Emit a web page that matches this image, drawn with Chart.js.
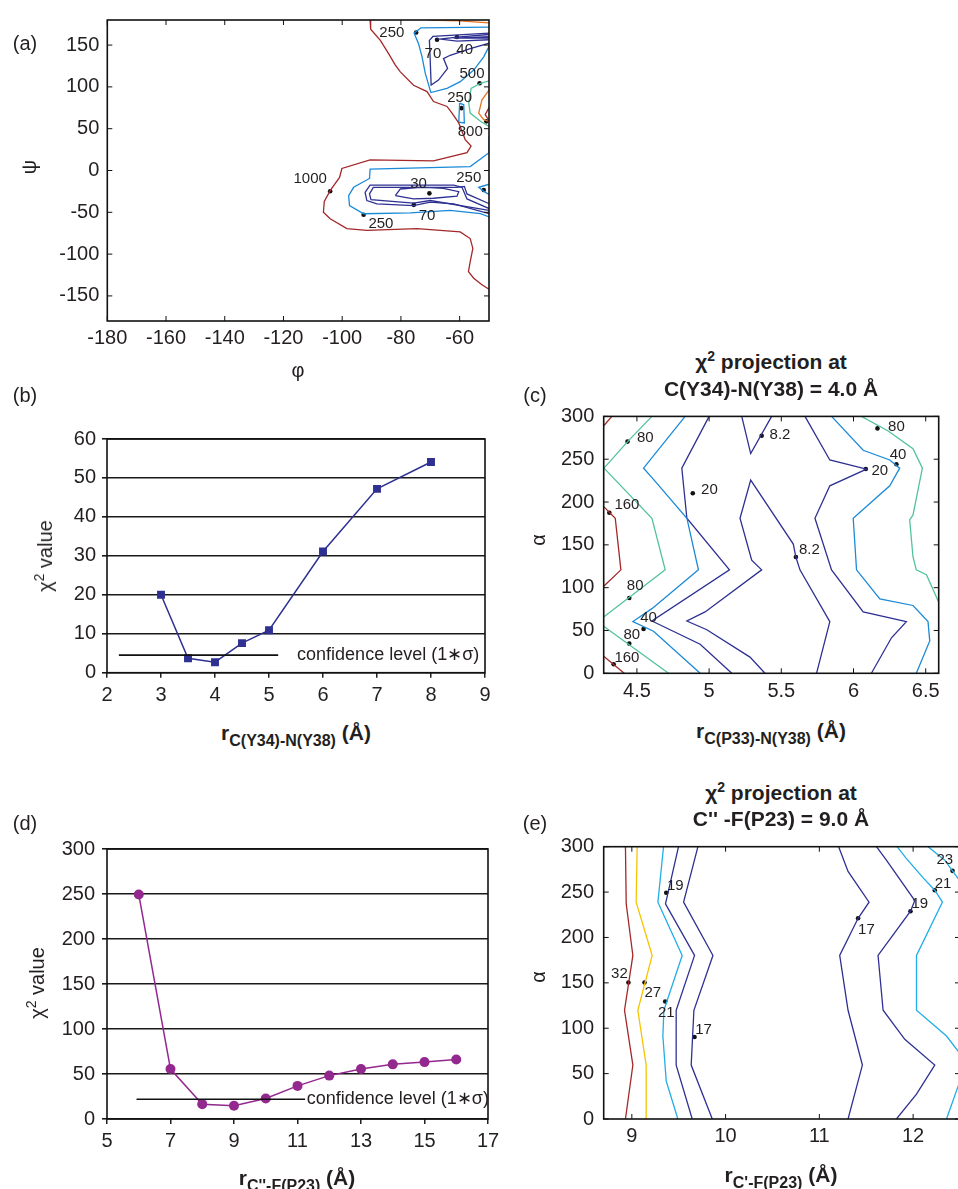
<!DOCTYPE html>
<html>
<head>
<meta charset="utf-8">
<script src="https://cdn.jsdelivr.net/npm/chart.js@4.4.1/dist/chart.umd.min.js"></script>
<style>
  html, body { margin: 0; padding: 0; background: #fff; overflow: hidden; }
  #page { position: relative; width: 958px; height: 1189px; overflow: hidden; font-family: 'Liberation Sans', Arial, sans-serif; color: #231f20; }
  canvas { position: absolute; }
  .t { position: absolute; white-space: nowrap; font-size: 20px; line-height: 1; transform: translate(-50%, -50%); z-index: 2; }
  .rot { transform: translate(-50%, -50%) rotate(-90deg); }
  .b { font-weight: bold; font-size: 21px; }
  .t sub { font-size: 16px; vertical-align: -6px; line-height: 0; }
  .t sup { font-size: 14px; vertical-align: 8px; line-height: 0; }
</style>
</head>
<body>
<div id="page">
  <div class="t" style="left:25px;top:43px">(a)</div>
  <div class="t rot" style="left:29px;top:167px">ψ</div>
  <div class="t" style="left:298px;top:370px">φ</div>

  <div class="t" style="left:25px;top:395px">(b)</div>
  <div class="t rot" style="left:45px;top:556px">χ<sup>2</sup> value</div>
  <div class="t b" style="left:296px;top:732px">r<sub>C(Y34)-N(Y38)</sub> (Å)</div>

  <div class="t" style="left:535px;top:395px">(c)</div>
  <div class="t b" style="left:771px;top:361px">χ<sup>2</sup> projection at</div>
  <div class="t b" style="left:771px;top:388px">C(Y34)-N(Y38) = 4.0 Å</div>
  <div class="t rot" style="left:538px;top:540px">α</div>
  <div class="t b" style="left:771px;top:730px">r<sub>C(P33)-N(Y38)</sub> (Å)</div>

  <div class="t" style="left:25px;top:823px">(d)</div>
  <div class="t rot" style="left:37px;top:983px">χ<sup>2</sup> value</div>
  <div class="t b" style="left:297px;top:1177px">r<sub>C''-F(P23)</sub> (Å)</div>

  <div class="t" style="left:535px;top:823px">(e)</div>
  <div class="t b" style="left:781px;top:792px">χ<sup>2</sup> projection at</div>
  <div class="t b" style="left:781px;top:818px">C'' -F(P23) = 9.0 Å</div>
  <div class="t rot" style="left:538px;top:977px">α</div>
  <div class="t b" style="left:781px;top:1174px">r<sub>C'-F(P23)</sub> (Å)</div>
</div>
<script>
// ---- panel (a): phi/psi contours, [phi, psi] pairs ----
const aC1000 = [[-90.5,180],[-90.3,169],[-87,155.6],[-84.2,139.8],[-81.9,126],[-80.2,118],[-75.7,102],[-71.1,94.4],[-68.9,82.5],[-64.3,76.6],[-62.6,68.7],[-60.3,56.9],[-59.2,47],[-58.1,37],[-56.1,29.2],[-57.5,21.3],[-68.9,11.5],[-90.5,12.6],[-100.1,2.4],[-100.9,-8.3],[-104.1,-24],[-106.1,-37],[-106.4,-49.8],[-104.1,-57.7],[-98.4,-69.5],[-91.6,-71.5],[-74.5,-69.5],[-59.8,-73.5],[-56.4,-81.4],[-55.5,-93.2],[-56.4,-109],[-57,-120.9],[-55.2,-128.8],[-52.4,-136.7],[-49.8,-142.6]]
const aC1000b = [[-49.8,76.6],[-51.3,66.7],[-49.8,58.9]]
const aC800 = [[-49.8,97.2],[-52.4,84.5],[-53.5,68.7],[-51.8,60.8],[-49.8,58.5]]
const aCtop = [[-70.6,180],[-60,179],[-49.8,176.5]]
const aC500 = [[-49.8,107.4],[-52.9,104.3],[-56.1,98.3],[-56.9,80.6],[-56.4,68.7],[-52.9,58.8],[-49.8,52.1]]
const aC250top = [[-49.8,171.4],[-73.2,170.6],[-75.5,164.3],[-74,151.7],[-72.8,135.9],[-71.7,116.1],[-69.8,93.2],[-64.3,98.3],[-59.8,106.2],[-55.2,120.1],[-51.8,135.9],[-49.8,149.7]]
const aC250loop = [[-60,80.6],[-60.3,57.7],[-58.4,56.9],[-58.6,78.6],[-60,80.6]]
const aC250low = [[-49.8,41],[-50,21.3],[-56.4,4.7],[-90.5,1.6],[-90.7,-9.5],[-96.1,-20.1],[-97.8,-30],[-97.5,-41.9],[-92.7,-51.7],[-76.8,-50.6],[-63.2,-47.8],[-52.9,-51.7],[-49.8,-55.7]]
const aC250notch = [[-49.8,-16.2],[-53.5,-20.1],[-51.6,-25.3],[-49.8,-29.2]]
const aC250edge = [[-49.9,-118],[-49.9,-131]]
const aC70top = [[-49.8,164.3],[-69.1,160.3],[-70.3,155.6],[-70,129.9],[-69.7,102.3],[-67.2,108.2],[-64.1,122],[-65.5,133.9],[-63.2,137.8],[-56.4,145.7],[-49.8,152.4]]
const aC40top = [[-49.8,162.7],[-60.9,159.6],[-66.6,157.2],[-60.9,154.8],[-49.8,156.4]]
const aC30top = [[-49.8,160],[-62,158.4],[-49.8,158.2]]
const aC70low = [[-49.8,-45.8],[-57.5,-34],[-59.2,-20.1],[-62,-17.4],[-90.5,-17.4],[-92.2,-26.1],[-91.6,-35.9],[-88.2,-39.9],[-75.7,-41.9],[-70,-37.9],[-62,-39.9],[-49.8,-51.7]]
const aC40low = [[-49.8,-39.9],[-57.5,-28],[-58.4,-19],[-60.9,-20.1],[-89.4,-20.1],[-90.7,-28],[-90.2,-34.8],[-75.7,-39.1],[-70,-35.9],[-49.8,-47.8]]
const aC30low = [[-81.9,-30],[-80.2,-22.1],[-73.4,-20.1],[-70,-20.5],[-65.5,-21.3],[-60.3,-25.3],[-60.9,-30.8],[-68.9,-33.2],[-75.7,-34],[-81.9,-30]]
const aLabelText = ['250', '70', '40', '500', '250', '800', '1000', '30', '250', '70', '250']
const aLabelAt = [[-83.1,164.3],[-69.1,139],[-58.3,143.8],[-55.8,116.1],[-60,86.5],[-56.4,45.8],[-110.9,-10.3],[-74,-15.4],[-56.9,-9.1],[-71.1,-53.7],[-86.8,-63.6]]
const aLabelDot = [[-74.8,165],[-67.7,156.4],[-60.9,159.6],[-53.2,104.3],[-59.4,74.6],[-50.9,58.8],[-104.1,-24.9],[-70.3,-27.3],[-51.8,-23.3],[-75.6,-41.1],[-92.7,-52.9]]

// ---- panel (b) ----
const bDist = [3, 3.5, 4, 4.5, 5, 6, 7, 8]
const bChi = [20, 3.7, 2.7, 7.6, 10.9, 31.1, 47.2, 54.1]
const bConfX = [2.22, 5.17]
const bConfY = 4.5
const bConfText = 'confidence level (1∗σ)'

// ---- panel (c): [r, alpha] pairs ----
const cC160a = [[4.272,289.4],[4.327,300]]
const cC160b = [[4.272,194.3],[4.35,181.1],[4.389,120.8],[4.272,101.9]]
const cC160c = [[4.272,19.6],[4.412,0]]
const cC80a = [[4.604,300],[4.442,271.7],[4.272,239.6]]
const cC80b = [[4.272,239.6],[4.604,181.1],[4.696,120.8],[4.272,66]]
const cC80c = [[4.272,54.7],[4.442,34],[4.719,0]]
const cC80d = [[6.055,300],[6.24,283],[6.412,262.3],[6.477,239.6],[6.412,184.9],[6.389,179.2],[6.412,135.8],[6.435,120.8],[6.505,115.1],[6.59,83]]
const cC40a = [[4.834,300],[4.546,239.6],[4.615,226.4],[4.846,181.1],[4.926,120.8],[4.604,75.5],[4.472,60.4],[4.615,49.1],[4.938,0]]
const cC40b = [[5.848,300],[6.067,260.4],[6.251,249.1],[6.32,239.6],[6.251,218.9],[5.998,181.1],[6.021,120.8],[6.182,86.8],[6.412,79.2],[6.516,60.4],[6.528,37.7],[6.435,0]]
const cC20a = [[5,300],[4.811,239.6],[4.846,181.1],[5.141,120.8],[4.604,61.1],[4.938,34],[5.157,0]]
const cC20b = [[5.664,300],[5.836,249.1],[6.09,238.5],[5.836,218.9],[5.733,181.1],[5.848,120.8],[6.067,71.7],[6.366,60.4],[6.263,41.5],[6.124,0]]
const cC8a = [[5.226,300],[5.288,256.6],[5.433,300]]
const cC8b = [[5.387,0],[5.283,18.9],[4.984,50.9],[4.846,61.1],[4.972,71.7],[5.364,120.8],[5.295,132.1],[5.214,181.1],[5.288,225.7],[5.583,150.9],[5.601,135.8],[5.629,120.8],[5.836,60.4],[5.744,0]]
const cLabelText = ['80', '160', '80', '40', '80', '160', '20', '8.2', '8.2', '80', '40', '20']
const cLabelAt = [[4.558,274.7],[4.431,196.2],[4.488,102.6],[4.581,64.2],[4.465,45.3],[4.431,18.1],[5.002,214.3],[5.491,278.1],[5.694,144.5],[6.297,287.5],[6.309,254.7],[6.182,236.6]]
const cLabelDot = [[4.435,270.6],[4.309,187.5],[4.447,87.9],[4.546,51.7],[4.447,34.7],[4.339,10.6],[4.887,210.2],[5.364,277.4],[5.601,135.8],[6.166,286],[6.297,244.2],[6.085,238.5]]

// ---- panel (d) ----
const dDist = [6, 7, 8, 9, 10, 11, 12, 13, 14, 15, 16]
const dChi = [249.5, 55.5, 16.5, 14.7, 22.8, 36.8, 48.2, 55.5, 60.7, 63.2, 66.2]
const dConfX = [5.93, 11.24]
const dConfY = 22
const dConfText = 'confidence level (1∗σ)'

// ---- panel (e): [r, alpha] pairs ----
const eC32 = [[8.932,300],[8.94,237.1],[9.011,180.2],[8.922,119.8],[9.011,59.4],[8.932,0]]
const eC27 = [[9.057,300],[9.046,238.9],[9.217,180.2],[9.064,119.8],[9.153,59.4],[9.153,0]]
const eC21a = [[9.338,300],[9.278,238.9],[9.537,180.2],[9.342,119.8],[9.331,91.4],[9.367,41.6],[9.491,0]]
const eC19a = [[9.498,300],[9.359,237.1],[9.669,180.2],[9.473,119.8],[9.473,59.4],[9.644,0]]
const eC17a = [[9.705,300],[9.552,238.9],[9.865,180.2],[9.662,119.8],[9.633,59.4],[9.858,0]]
const eC17b = [[11.206,300],[11.306,272.7],[11.53,238.9],[11.413,221.1],[11.217,180.2],[11.306,119.8],[11.459,59.4],[11.306,0]]
const eC19b = [[11.609,300],[11.715,285.1],[12.018,240.7],[11.972,228.9],[11.626,180.2],[11.68,119.8],[11.911,87.8],[12.231,59.4],[12.036,27.4],[11.822,0]]
const eC21b = [[11.829,300],[11.929,286.9],[12.107,265.6],[12.231,252],[12.313,238.9],[12.036,180.2],[12.036,119.8],[12.356,91.4],[12.5,72]]
const eC21c = [[12.5,42],[12.356,0]]
const eC23 = [[12.16,300],[12.338,285.1],[12.42,273.4],[12.5,262]]
const eLabelText = ['32', '27', '21', '19', '17', '17', '19', '21', '23']
const eLabelAt = [[8.868,160.3],[9.224,139],[9.367,117],[9.463,257.4],[9.765,98.5],[11.502,208],[12.071,237.1],[12.32,259.2],[12.338,285.1]]
const eLabelDot = [[8.964,150.4],[9.135,150.4],[9.356,129.4],[9.367,249.2],[9.669,90.3],[11.413,221.1],[11.972,228.9],[12.231,252],[12.42,273.4]]

const FONT = "'Liberation Sans', Arial, sans-serif"
const INK = '#231f20'
const RED = '#a3282a'
const ORANGE = '#e8731f'
const GREEN = '#52c39b'
const BLUE = '#1a8ad8'
const CYAN = '#20ade8'
const NAVY = '#2e3192'
const YELLOW = '#f5c400'
const PURPLE = '#93288f'

const rows = pts => pts.map(p => ({ x: p[0], y: p[1] }))
const pair = (xs, ys) => xs.map((x, i) => ({ x, y: ys[i] }))
const plain = v => String(Math.round(v * 1000) / 1000)

function contour(pts, color) {
  return { data: rows(pts), showLine: true, borderColor: color, borderWidth: 1.3, pointRadius: 0, pointHoverRadius: 0 }
}
function dots(pts) {
  return { data: rows(pts), showLine: false, pointRadius: 2.3, pointHoverRadius: 2.3, backgroundColor: '#111', borderWidth: 0 }
}
function notes(texts, at, align) {
  return texts.map((text, i) => ({ text, x: at[i][0], y: at[i][1], align }))
}

// box frame, plus matlab style inward ticks
const framePlugin = {
  id: 'frame',
  afterDatasetsDraw(chart, args, opts) {
    const { ctx, chartArea: a, scales: { x, y } } = chart
    ctx.save()
    ctx.strokeStyle = '#111'
    ctx.lineWidth = 1.6
    ctx.strokeRect(a.left, a.top, a.right - a.left, a.bottom - a.top)
    if (opts.inTicks) {
      const L = opts.inTicks
      ctx.lineWidth = 1
      ctx.beginPath()
      x.ticks.forEach(t => {
        const px = x.getPixelForValue(t.value)
        ctx.moveTo(px, a.bottom); ctx.lineTo(px, a.bottom - L)
        ctx.moveTo(px, a.top); ctx.lineTo(px, a.top + L)
      })
      y.ticks.forEach(t => {
        const py = y.getPixelForValue(t.value)
        ctx.moveTo(a.left, py); ctx.lineTo(a.left + L, py)
        ctx.moveTo(a.right, py); ctx.lineTo(a.right - L, py)
      })
      ctx.stroke()
    }
    ctx.restore()
  }
}

const notesPlugin = {
  id: 'notes',
  afterDatasetsDraw(chart, args, opts) {
    if (!opts.items) return
    const { ctx, scales: { x, y } } = chart
    ctx.save()
    ctx.font = opts.size + 'px ' + FONT
    ctx.fillStyle = INK
    ctx.textBaseline = 'middle'
    opts.items.forEach(it => {
      ctx.textAlign = it.align || 'center'
      ctx.fillText(it.text, x.getPixelForValue(it.x), y.getPixelForValue(it.y))
    })
    ctx.restore()
  }
}

function panel(box, area, sx, sy, datasets, extra) {
  const canvas = document.createElement('canvas')
  canvas.width = box.w
  canvas.height = box.h
  canvas.style.left = box.x + 'px'
  canvas.style.top = box.y + 'px'
  document.getElementById('page').appendChild(canvas)

  const yW = area.l - box.x
  const xH = box.y + box.h - area.b
  const tickFont = { family: FONT, size: 20 }
  const excel = !!extra.excel
  const gridX = excel
    ? { display: true, drawOnChartArea: false, drawTicks: true, tickLength: 5, color: INK, lineWidth: 1.5 }
    : { display: false, drawTicks: false, tickLength: 0 }
  const gridY = excel
    ? { display: true, drawTicks: true, tickLength: 5, color: '#1a1a1a', lineWidth: 1.6 }
    : { display: false, drawTicks: false, tickLength: 0 }

  return new Chart(canvas, {
    type: 'scatter',
    data: { datasets },
    options: {
      responsive: false,
      animation: false,
      devicePixelRatio: 1,
      events: [],
      layout: { padding: { left: 0, bottom: 0, top: area.t - box.y, right: box.x + box.w - area.r } },
      plugins: {
        legend: { display: false },
        tooltip: { enabled: false },
        frame: { inTicks: excel ? 0 : 5 },
        notes: { items: extra.notes, size: extra.noteSize || 15 }
      },
      scales: {
        x: {
          type: 'linear', min: sx.min, max: sx.max,
          grid: gridX, border: { display: false },
          ticks: { stepSize: sx.step, includeBounds: false, autoSkip: false, maxRotation: 0, padding: sx.pad, color: INK, font: tickFont, callback: plain },
          afterFit: s => { s.height = xH }
        },
        y: {
          type: 'linear', min: sy.min, max: sy.max,
          grid: gridY, border: { display: false },
          ticks: { stepSize: sy.step, includeBounds: false, autoSkip: false, padding: sy.pad, color: INK, font: tickFont, callback: plain },
          afterFit: s => { s.width = yW }
        }
      }
    },
    plugins: [framePlugin, notesPlugin]
  })
}

// (a)
panel({ x: 0, y: 0, w: 500, h: 400 }, { l: 107.3, t: 16, r: 489, b: 321 },
  { min: -180, max: -50, step: 20, pad: 5 }, { min: -180, max: 180, step: 50, pad: 8 },
  [
    contour(aC1000, RED), contour(aC1000b, RED), contour(aC800, ORANGE), contour(aCtop, ORANGE),
    contour(aC500, GREEN), contour(aC250top, BLUE), contour(aC250loop, BLUE), contour(aC250low, BLUE),
    contour(aC250notch, BLUE), contour(aC250edge, BLUE), contour(aC70top, NAVY), contour(aC40top, NAVY),
    contour(aC30top, NAVY), contour(aC70low, NAVY), contour(aC40low, NAVY), contour(aC30low, NAVY),
    dots(aLabelDot)
  ],
  { notes: notes(aLabelText, aLabelAt) })

// (b)
panel({ x: 0, y: 420, w: 505, h: 300 }, { l: 107, t: 439, r: 485, b: 672.7 },
  { min: 2, max: 9, step: 1, pad: 6 }, { min: 0, max: 60, step: 10, pad: 6 },
  [
    { data: pair(bConfX, [bConfY, bConfY]), showLine: true, borderColor: '#111', borderWidth: 1.6, pointRadius: 0 },
    { data: pair(bDist, bChi), showLine: true, borderColor: NAVY, borderWidth: 1.5, pointStyle: 'rect', pointRadius: 5.6, pointHoverRadius: 5.6, backgroundColor: NAVY, pointBorderWidth: 0 }
  ],
  { excel: true, noteSize: 18, notes: [{ text: bConfText, x: 5.52, y: bConfY, align: 'left' }] })

// (c)
panel({ x: 500, y: 395, w: 458, h: 320 }, { l: 603.7, t: 408.3, r: 938.7, b: 673.3 },
  { min: 4.27, max: 6.59, step: 0.5, pad: 6 }, { min: 0, max: 300, step: 50, pad: 9.4 },
  [
    contour(cC160a, RED), contour(cC160b, RED), contour(cC160c, RED),
    contour(cC80a, GREEN), contour(cC80b, GREEN), contour(cC80c, GREEN), contour(cC80d, GREEN),
    contour(cC40a, BLUE), contour(cC40b, BLUE),
    contour(cC20a, NAVY), contour(cC20b, NAVY), contour(cC8a, NAVY), contour(cC8b, NAVY),
    dots(cLabelDot)
  ],
  { notes: notes(cLabelText, cLabelAt) })

// (d)
panel({ x: 0, y: 830, w: 505, h: 359 }, { l: 107, t: 847.7, r: 488, b: 1119 },
  { min: 5, max: 17, step: 2, pad: 5 }, { min: 0, max: 300, step: 50, pad: 7 },
  [
    { data: pair(dConfX, [dConfY, dConfY]), showLine: true, borderColor: '#111', borderWidth: 1.6, pointRadius: 0 },
    { data: pair(dDist, dChi), showLine: true, borderColor: PURPLE, borderWidth: 1.5, pointStyle: 'circle', pointRadius: 5, pointHoverRadius: 5, backgroundColor: PURPLE, pointBorderWidth: 0 }
  ],
  { excel: true, noteSize: 18, notes: [{ text: dConfText, x: 11.29, y: dConfY, align: 'left' }] })

// (e)
panel({ x: 500, y: 825, w: 475, h: 364 }, { l: 603.7, t: 837.7, r: 960, b: 1119 },
  { min: 8.7, max: 12.5, step: 1, pad: 5.5 }, { min: 0, max: 300, step: 50, pad: 9.7 },
  [
    contour(eC32, RED), contour(eC27, YELLOW),
    contour(eC21a, CYAN), contour(eC21b, CYAN), contour(eC21c, CYAN), contour(eC23, CYAN),
    contour(eC19a, NAVY), contour(eC19b, NAVY), contour(eC17a, NAVY), contour(eC17b, NAVY),
    dots(eLabelDot)
  ],
  { notes: notes(eLabelText, eLabelAt) })
</script>
</body>
</html>
